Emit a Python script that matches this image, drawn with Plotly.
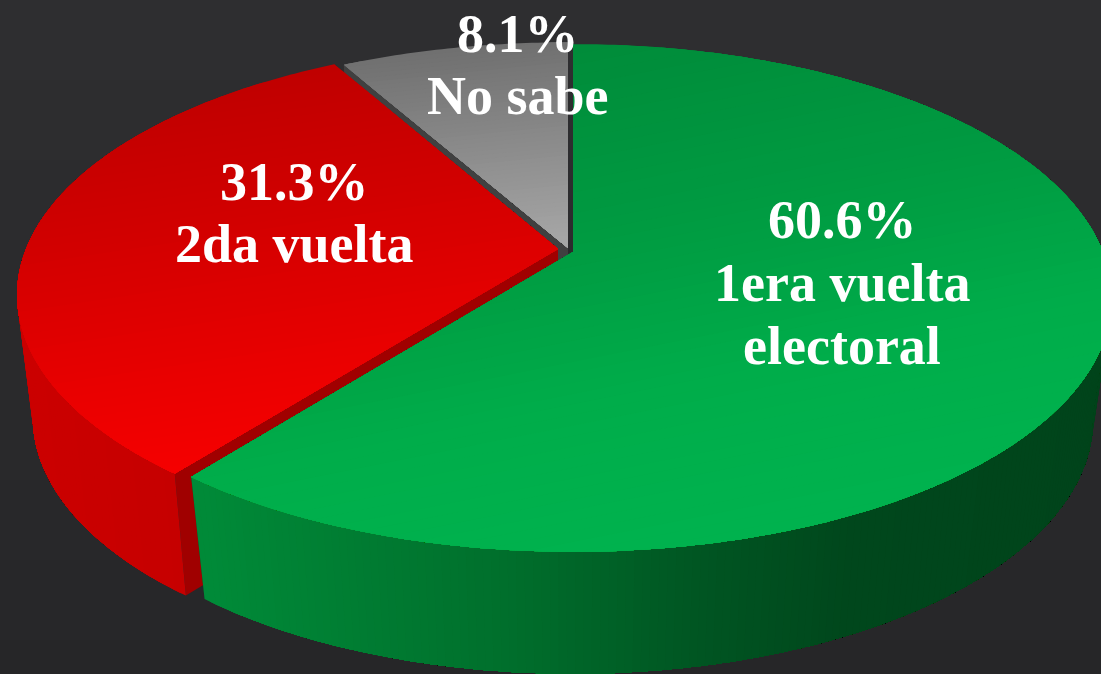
import math
import plotly.graph_objects as go

labels = [["1era vuelta", "electoral"], ["2da vuelta"], ["No sabe"]]
values = [60.6, 31.3, 8.1]

W, H = 1101, 674
K = 0.181
DEPTH = 122
# per-slice geometry (exploded apex and projection scale)
geom = {
    0: dict(cx=573, cy=252, B=530, A=245.5, f=0.965),
    1: dict(cx=558, cy=249, B=532, A=245.0, f=0.971),
    2: dict(cx=568, cy=248, B=533, A=243.0, f=0.971),
}
top_stops = {
    0: [(44, "#008c3a"), (250, "#009c42"), (400, "#00ad4a"), (552, "#00b24e")],
    1: [(65, "#bf0000"), (220, "#d40000"), (350, "#e80000"), (474, "#f80000")],
    2: [(42, "#6e6e6e"), (250, "#a6a6a6")],
}
# gradient tilt: colour follows y + tilt * (x - x_ref)
tilt = {0: (0.20, 573), 1: (0.15, 300), 2: (0.10, 450)}
wall_stops = {
    0: [(200, "#008a38"), (500, "#006f2c"), (700, "#005522"), (850, "#00471c"), (1100, "#00441b")],
    1: [(0, "#cc0000"), (180, "#c60000")],
    2: [(0, "#404040"), (600, "#404040")],
}
cut_colors = {0: "#004a1e", 1: "#a00000", 2: "#404040"}
# centre x and the y of each text line
label_x = {0: 842, 1: 294, 2: 518}
label_y = {0: [220, 283, 346], 1: [182, 244], 2: [34, 96]}
bg_stops = [(0, "#2e2e30"), (674, "#262628")]


def h2r(c):
    return tuple(int(c[i:i + 2], 16) for i in (1, 3, 5))


def interp(stops, v):
    if v <= stops[0][0]:
        return stops[0][1]
    for (a, ca), (b, cb) in zip(stops, stops[1:]):
        if v <= b:
            t = (v - a) / (b - a)
            ra, rb = h2r(ca), h2r(cb)
            return "rgb(%d,%d,%d)" % tuple(round(p + (q - p) * t) for p, q in zip(ra, rb))
    return stops[-1][1]


def top(i, theta, r=1.0):
    g = geom[i]
    X, Y = r * math.sin(theta), r * math.cos(theta)
    s = 1 / (1 + K * Y)
    return g["cx"] + g["B"] * X * s, g["cy"] - g["A"] * Y * s


def bottom(i, p):
    g = geom[i]
    return g["cx"] + (p[0] - g["cx"]) * g["f"], p[1] + DEPTH


def clip_above(poly, fn, vk):
    """Keep the part of poly where fn(point) >= vk."""
    out = []
    for a, b in zip(poly, poly[1:] + poly[:1]):
        va, vb = fn(a), fn(b)
        if va >= vk:
            out.append(a)
        if (va >= vk) != (vb >= vk):
            t = (vk - va) / (vb - va)
            out.append((a[0] + (b[0] - a[0]) * t, a[1] + (b[1] - a[1]) * t))
    return out


fig = go.Figure()


def add_poly(poly, color):
    if len(poly) < 3:
        return
    fig.add_trace(go.Scatter(
        x=[p[0] for p in poly] + [poly[0][0]],
        y=[p[1] for p in poly] + [poly[0][1]],
        mode="none", fill="toself", fillcolor=color,
        hoverinfo="skip", showlegend=False))


# background
for y in range(0, H, 40):
    add_poly([(0, y), (W, y), (W, H), (0, H)], interp(bg_stops, y))

# slice angle ranges, clockwise from 12 o'clock
total = sum(values)
ranges = {}
acc = 0.0
for i, v in enumerate(values):
    ranges[i] = (acc / total * 2 * math.pi, (acc + v) / total * 2 * math.pi)
    acc += v

N = 480


def arc(i):
    a, b = ranges[i]
    n = max(8, int(N * (b - a) / (2 * math.pi)))
    return [a + (b - a) * j / n for j in range(n + 1)]


def draw_wall(i):
    thetas = arc(i)
    ps = [top(i, t) for t in thetas]
    qs = [bottom(i, p) for p in ps]
    g = geom[i]
    apex = (g["cx"], g["cy"])
    apex_b = bottom(i, apex)
    add_poly([apex, ps[0], qs[0], apex_b], cut_colors[i])
    add_poly([apex, ps[-1], qs[-1], apex_b], cut_colors[i])
    if i == 2:
        return
    # only the part of the rim that faces the viewer
    if i == 0:
        j0 = max(range(len(ps)), key=lambda j: ps[j][0])
        ps, qs = ps[j0:], qs[j0:]
    else:
        j1 = min(range(len(ps)), key=lambda j: ps[j][0])
        ps, qs = ps[:j1 + 1][::-1], qs[:j1 + 1][::-1]
    # painted as successively shorter strips so that no seams appear
    for j in range(len(ps) - 1, 0, -1):
        add_poly(ps[:j + 1] + qs[:j + 1][::-1], interp(wall_stops[i], ps[j][0]))


def draw_top(i):
    g = geom[i]
    poly = [(g["cx"], g["cy"])] + [top(i, t) for t in arc(i)]
    m, xr = tilt[i]
    fn = lambda p: p[1] + m * (p[0] - xr)
    vs = [fn(p) for p in poly]
    v0, v1 = min(vs), max(vs)
    n = 50
    add_poly(poly, interp(top_stops[i], v0))
    for k in range(1, n):
        vk = v0 + (v1 - v0) * k / n
        add_poly(clip_above(poly, fn, vk), interp(top_stops[i], vk))


for i in (2, 1, 0):
    draw_wall(i)
for i in (2, 1, 0):
    draw_top(i)

annotations = []
for i, (v, lab) in enumerate(zip(values, labels)):
    for line, y in zip([f"{v}%"] + lab, label_y[i]):
        annotations.append(dict(
            x=label_x[i], y=y, xref="x", yref="y", showarrow=False, align="center",
            text=f"<b>{line}</b>",
            font=dict(family="Liberation Serif", size=54, color="#ffffff")))

fig.update_layout(
    width=W, height=H, margin=dict(l=0, r=0, t=0, b=0),
    paper_bgcolor="#262626", plot_bgcolor="#262626", showlegend=False,
    xaxis=dict(range=[0, W], visible=False, fixedrange=True),
    yaxis=dict(range=[H, 0], visible=False, fixedrange=True),
    annotations=annotations,
)
fig.write_html(
    "out.html", config=dict(displayModeBar=False),
    post_script="document.body.style.margin='0';document.body.style.overflow='hidden';document.body.style.background='#262626';")
